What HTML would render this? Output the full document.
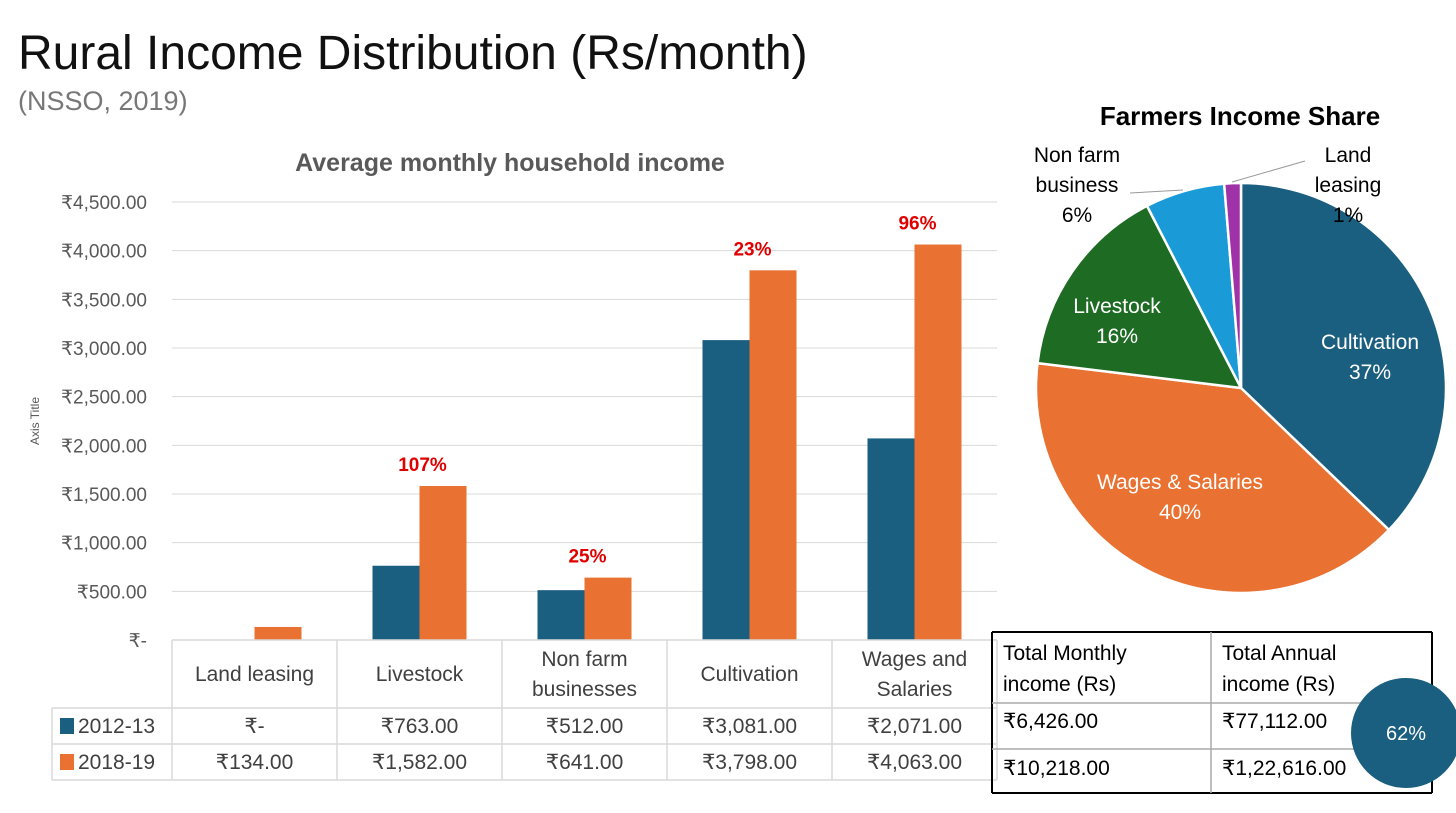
<!DOCTYPE html>
<html><head><meta charset="utf-8">
<style>
body{margin:0;width:1456px;height:813px;background:#fff;font-family:"Liberation Sans",sans-serif;position:relative;overflow:hidden}
.abs{position:absolute}
</style></head><body>
<div class="abs" style="left:18px;top:26px;font-size:48px;color:#111">Rural Income Distribution (Rs/month)</div>
<div class="abs" style="left:18px;top:86px;font-size:27px;color:#777">(NSSO, 2019)</div>
<svg class="abs" style="left:0;top:0" width="1456" height="813" id="svg"></svg>
<script>
const categories=["Land leasing","Livestock","Non farm businesses","Cultivation","Wages and Salaries"];
const catLines=[["Land leasing"],["Livestock"],["Non farm","businesses"],["Cultivation"],["Wages and","Salaries"]];
const series2012=[0,763,512,3081,2071];
const series2019=[134,1582,641,3798,4063];
const labels2012=["₹-","₹763.00","₹512.00","₹3,081.00","₹2,071.00"];
const labels2019=["₹134.00","₹1,582.00","₹641.00","₹3,798.00","₹4,063.00"];
const growthLabels=["","107%","25%","23%","96%"];
const yTicks=[0,500,1000,1500,2000,2500,3000,3500,4000,4500];
const yTickLabels=["₹-","₹500.00","₹1,000.00","₹1,500.00","₹2,000.00","₹2,500.00","₹3,000.00","₹3,500.00","₹4,000.00","₹4,500.00"];
const pieNames=["Cultivation","Wages & Salaries","Livestock","Non farm business","Land leasing"];
const pieValues=[3798,4063,1582,641,134];
const pieLabels=["37%","40%","16%","6%","1%"];
const pieColors=["#1a5e80","#e97132","#1e6b24","#1a9bd7","#a032a8"];

const NS="http://www.w3.org/2000/svg";
const svg=document.getElementById('svg');
function mk(tag,attrs,parent,text){const e=document.createElementNS(NS,tag);for(const k in attrs)e.setAttribute(k,attrs[k]);if(text!==undefined)e.textContent=text;(parent||svg).appendChild(e);return e;}
const x0=172,x1=997,yBase=640,yTop=202,yMax=4500;
const y=v=>yBase-(v/yMax)*(yBase-yTop);
const bw=(x1-x0)/categories.length;
const xc=i=>x0+bw*(i+0.5);
const barW=47;
let t=mk('text',{x:510,y:171,'text-anchor':'middle','font-size':25,'font-weight':'bold',fill:'#595959'},svg,"Average monthly household income");

yTicks.forEach((v,i)=>{
  if(i>0){let g=mk('line',{x1:x0,x2:x1,y1:y(v),y2:y(v),stroke:'#d9d9d9','stroke-width':1});
  }
  let l=mk('text',{x:147,y:y(v)+7,'text-anchor':'end','font-size':19,fill:'#595959'},svg,yTickLabels[i]);
  
});
t=mk('text',{x:39,y:421,'text-anchor':'middle','font-size':12,fill:'#595959',transform:'rotate(-90 39 421)'},svg,"Axis Title");

categories.forEach((c,i)=>{
  let b=mk('rect',{x:xc(i)-barW,y:y(series2012[i]),width:barW,height:yBase-y(series2012[i]),fill:'#1a5e80'});
  
  b=mk('rect',{x:xc(i),y:y(series2019[i]),width:barW,height:yBase-y(series2019[i]),fill:'#e97132'});
  
  if(growthLabels[i]){let g=mk('text',{x:xc(i)+3,y:y(series2019[i])-15,'text-anchor':'middle','font-size':19,'font-weight':'bold',fill:'#e00000'},svg,growthLabels[i]);
  }
});
const tc='#d9d9d9';
function ln(a,b,c,d){let l=mk('line',{x1:a,y1:b,x2:c,y2:d,stroke:tc,'stroke-width':1.5});}
ln(x0,640,x1,640);ln(52,708,x1,708);ln(52,744,x1,744);ln(52,780,x1,780);ln(52,708,52,780);
for(let i=0;i<=categories.length;i++)ln(x0+bw*i,640,x0+bw*i,780);
catLines.forEach((ls,i)=>{ls.forEach((s,j)=>{let e=mk('text',{x:xc(i),y:(ls.length==1?681:666)+j*30,'text-anchor':'middle','font-size':21,fill:'#404040'},svg,s);
});
 let a=mk('text',{x:xc(i),y:733,'text-anchor':'middle','font-size':21,fill:'#404040'},svg,labels2012[i]);
 a=mk('text',{x:xc(i),y:769,'text-anchor':'middle','font-size':21,fill:'#404040'},svg,labels2019[i]);
});
[['2012-13','#1a5e80',726],['2018-19','#e97132',762]].forEach(([n,c,yy])=>{
 let r=mk('rect',{x:60,y:yy-8,width:14,height:16,fill:c});
 let e=mk('text',{x:78,y:yy+7,'font-size':21,fill:'#404040'},svg,n);
});
const cx=1241,cy=388,R=205;
t=mk('text',{x:1240,y:125,'text-anchor':'middle','font-size':26,'font-weight':'bold',fill:'#000'},svg,"Farmers Income Share");

const tot=pieValues.reduce((a,b)=>a+b,0);
let ang=0;
const pt=(a,r)=>[cx+r*Math.sin(a),cy-r*Math.cos(a)];
pieValues.forEach((v,i)=>{
 const a0=ang,a1=ang+v/tot*2*Math.PI;ang=a1;
 const p0=pt(a0,R),p1=pt(a1,R);
 let s=mk('path',{d:`M${cx},${cy}L${p0[0]},${p0[1]}A${R},${R} 0 ${a1-a0>Math.PI?1:0} 1 ${p1[0]},${p1[1]}Z`,fill:pieColors[i],stroke:'#fff','stroke-width':2.5});
 
});
function lbl(lines,x,yy,col,name){lines.forEach((s,j)=>{let e=mk('text',{x:x,y:yy+j*30,'text-anchor':'middle','font-size':21,fill:col},svg,s);});}
lbl(["Cultivation",pieLabels[0]],1370,349,'#fff','pie-label-cultivation');
lbl(["Wages & Salaries",pieLabels[1]],1180,489,'#fff','pie-label-wages');
lbl(["Livestock",pieLabels[2]],1117,313,'#fff','pie-label-livestock');
lbl(["Non farm","business",pieLabels[3]],1077,162,'#000','pie-label-nonfarm');
lbl(["Land","leasing",pieLabels[4]],1348,162,'#000','pie-label-land-leasing');
let l1=mk('polyline',{points:'1130,193 1183,190',fill:'none',stroke:'#999'});
l1=mk('polyline',{points:'1232,182 1305,161',fill:'none',stroke:'#999'});
function bl(a,b,c,d,col,w){let l=mk('line',{x1:a,y1:b,x2:c,y2:d,stroke:col,'stroke-width':w});}
bl(992,632,1432,632,'#000',2);bl(992,793,1432,793,'#000',2);bl(992,632,992,793,'#000',2);bl(1432,632,1432,793,'#000',2);
bl(992,703,1432,703,'#aaa',1.5);bl(992,749,1432,749,'#aaa',1.5);bl(1211,632,1211,793,'#aaa',1.5);
const lbl2=(s,x,yy,n)=>{let e=mk('text',{x:x,y:yy,'font-size':21,fill:'#000'},svg,s);};
lbl2("Total Monthly",1003,660,'totals-header-monthly');lbl2("income (Rs)",1003,691,'totals-header-monthly');
lbl2("Total Annual",1222,660,'totals-header-annual');lbl2("income (Rs)",1222,691,'totals-header-annual');
lbl2("₹6,426.00",1003,728,'monthly-2012');lbl2("₹77,112.00",1222,728,'annual-2012');
lbl2("₹10,218.00",1003,775,'monthly-2019');lbl2("₹1,22,616.00",1222,775,'annual-2019');
let c=mk('circle',{cx:1406,cy:733,r:55,fill:'#1a5e80'});
t=mk('text',{x:1406,y:740,'text-anchor':'middle','font-size':20,fill:'#fff'},svg,"62%");
</script>
</body></html>
